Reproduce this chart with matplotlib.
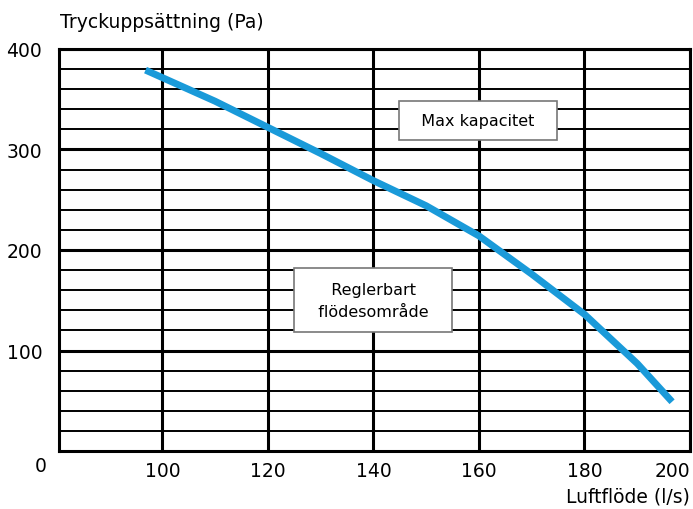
import numpy as np
import matplotlib.pyplot as plt

# curve
flow = [96.8, 110, 120, 130, 140, 150, 160, 170, 180, 190, 196.6]
pressure = [379, 348, 322, 296, 269, 244, 214, 176, 136, 87, 49]

x_ticks = [100, 120, 140, 160, 180, 200]
y_ticks = [100, 200, 300, 400]
y_minor = [20, 40, 60, 80, 120, 140, 160, 180, 220, 240, 260, 280, 320, 340, 360, 380]

plt.rcParams['font.family'] = ['DejaVu Sans']

fig = plt.figure(figsize=(6.93, 5.10), dpi=100)
ax = fig.add_axes([0.0851, 0.1137, 0.9106, 0.7883])
ax.set_xlim(80.4, 200)
ax.set_ylim(0, 400)

for y in y_minor:
    ax.axhline(y, color="black", lw=1.4, zorder=1)
for y in y_ticks:
    ax.axhline(y, color="black", lw=2.2, zorder=1)
for x in x_ticks:
    ax.axvline(x, color="black", lw=2.2, zorder=1)

ax.plot(flow, pressure, color="#1a9ad9", lw=5, solid_capstyle="butt",
        solid_joinstyle="round", zorder=3)

ax.set_xticks(x_ticks)
ax.set_yticks(y_ticks)
ax.tick_params(length=0, labelsize=13.5, pad=7)
ax.tick_params(axis="y", pad=12)
ax.get_xticklabels()[-1].set_horizontalalignment("right")
for s in ax.spines.values():
    s.set_linewidth(2.2)

box = dict(boxstyle="square,pad=0.75", facecolor="white", edgecolor="#777777", lw=1.2)
ax.text(159.8, 329, "  Max kapacitet  ", ha="center", va="center", fontsize=11.5,
        bbox=box, zorder=4)
ax.text(140, 150, "  Reglerbart  \n  flödesområde  ", ha="center", va="center", fontsize=11.5,
        linespacing=1.6, bbox=dict(boxstyle="square,pad=0.85", facecolor="white",
                                   edgecolor="#777777", lw=1.2), zorder=4)

fig.text(0.0866, 0.955, "Tryckuppsättning (Pa)", ha="left", va="center", fontsize=13.5)
fig.text(0.995, 0.025, "Luftflöde (l/s)", ha="right", va="center", fontsize=13.5)
fig.text(0.058, 0.085, "0", ha="center", va="center", fontsize=13.5)

fig.savefig("out.png", dpi=100)
